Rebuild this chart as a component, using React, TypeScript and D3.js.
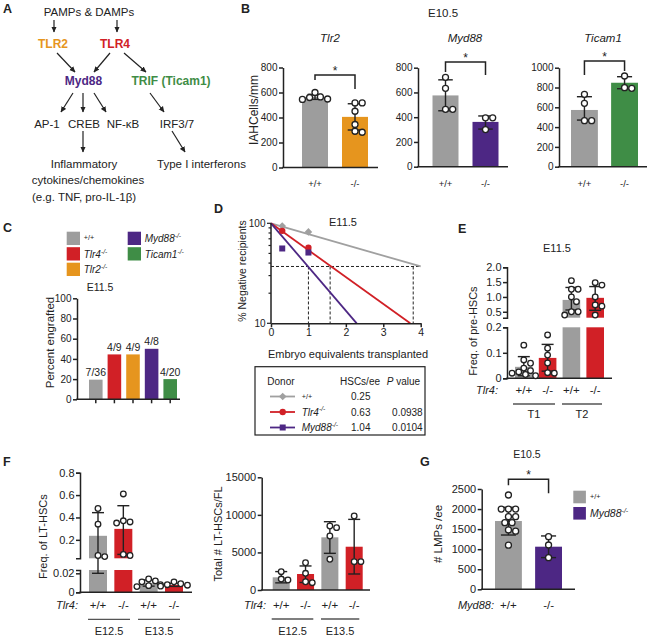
import React, { useEffect, useRef } from "react";
import * as d3 from "d3";

const FONT = "'Liberation Sans', Arial, Helvetica, sans-serif";
const GRAY = "#9d9d9d";
const ORANGE = "#e6951e";
const RED = "#d12026";
const PURPLE = "#4d2784";
const GREEN = "#3f8d46";
const INK = "#222";

// B: IAH cells / mm at E10.5
const bGenotypes = ["+/+", "-/-"];
const bTicks800 = [0, 200, 400, 600, 800];
const bTicks1000 = [0, 200, 400, 600, 800, 1000];
const tlr2Means = [565, 405];
const tlr2Lo = [545, 300];
const tlr2Hi = [585, 510];
const tlr2Pts = [[600, 548, 560, 565, 545], [517, 517, 450, 344, 282, 290]];
const myd88Means = [576, 362];
const myd88Lo = [452, 304];
const myd88Hi = [702, 410];
const myd88Pts = [[722, 633, 464, 464], [395, 395, 300]];
const ticam1Means = [573, 848];
const ticam1Lo = [471, 788];
const ticam1Hi = [707, 909];
const ticam1Pts = [[731, 640, 465, 465], [916, 798, 792]];

// C: percent engrafted at E11.5
const cGroups = ["+/+", "Tlr4", "Tlr2", "Myd88", "Ticam1"];
const cColors = [GRAY, RED, ORANGE, PURPLE, GREEN];
const cEngrafted = [7, 4, 4, 4, 4];
const cTotal = [36, 9, 9, 8, 20];
const cTicks = [0, 20, 40, 60, 80, 100];

// D: limiting dilution
const dDonors = ["+/+", "Tlr4", "Myd88"];
const dColors = ["#a0a0a0", RED, PURPLE];
const dDoses = [0.3, 1];
const dNegPct = [[94, 82], [84, 57], [56, 51]];
const dFitEnd = [[4, 37], [3.72, 10], [2.29, 10]];
const dCross = [3.8, 1.58, 1.0];
const dLevel = 37;
const dHscs = ["0.25", "0.63", "1.04"];
const dPvals = ["", "0.0938", "0.0104"];
const dTicksX = [0, 1, 2, 3, 4];
const dTicksY = [10, 20, 30, 40, 50, 60, 70, 80, 90, 100];

// E: pre-HSC frequency at E11.5
const eCats = ["+/+", "-/-", "+/+", "-/-"];
const eColors = [GRAY, RED, GRAY, RED];
const eTicksLow = [0, 0.1, 0.2];
const eTicksHigh = [0.5, 1.0, 1.5, 2.0];
const eMeans = [0.045, 0.08, 0.9, 0.97];
const eLo = [0.01, 0.028, 0.56, 0.55];
const eHi = [0.085, 0.133, 1.32, 1.35];
const ePts = [
  [0.13, 0.072, 0.059, 0.04, 0.03, 0.025, 0.02, 0.015, 0.01],
  [0.17, 0.118, 0.091, 0.06, 0.022, 0.02],
  [1.55, 1.26, 1.26, 1.0, 0.84, 0.5, 0.39, 0.5],
  [1.48, 1.4, 1.0, 0.73, 0.69, 0.39],
];

// F: LT-HSC frequency and totals in fetal liver
const fCats = ["+/+", "-/-", "+/+", "-/-"];
const fColors = [GRAY, RED, GRAY, RED];
const fStages = ["E12.5", "E13.5"];
const fTicksLow = [0, 0.02];
const fTicksHigh = [0.2, 0.4, 0.6, 0.8];
const fFreqMeans = [0.236, 0.298, 0.0095, 0.0077];
const fFreqLo = [0.02, 0.07, 0.0065, 0.0062];
const fFreqHi = [0.443, 0.505, 0.013, 0.0095];
const fFreqPts = [
  [0.48, 0.34, 0.06, 0.05],
  [0.61, 0.37, 0.36, 0.35, 0.07, 0.06],
  [0.014, 0.012, 0.011, 0.008, 0.007, 0.006],
  [0.011, 0.009, 0.008, 0.0075, 0.0065],
];
const fTotTicks = [0, 5000, 10000, 15000];
const fTotMeans = [1690, 2130, 7010, 5760];
const fTotLo = [950, 1000, 4880, 2130];
const fTotHi = [2450, 3200, 9090, 9400];
const fTotPts = [
  [2440, 1460, 1330],
  [3630, 2220, 1100, 970],
  [8520, 8300, 7190, 4090],
  [9850, 3770, 3770],
];

// G: LMPs per ee at E10.5
const gTicks = [0, 500, 1000, 1500, 2000, 2500];
const gMeans = [1702, 1062];
const gLo = [1353, 790];
const gHi = [2044, 1330];
const gPts = [
  [2350, 2000, 2000, 2000, 1810, 1810, 1660, 1660, 1480, 1450, 1100],
  [1311, 1104, 788],
];

function swarm(ys: number[], r: number): number[] {
  const order = ys.map((_, i) => i).sort((a, b) => ys[a] - ys[b]);
  const placed: { x: number; y: number }[] = [];
  const out = new Array(ys.length).fill(0);
  const step = r * 0.6;
  order.forEach((i) => {
    const y = ys[i];
    for (let k = 0; k < 40; k++) {
      const c = k === 0 ? 0 : (k % 2 ? 1 : -1) * Math.ceil(k / 2) * step;
      if (placed.every((p) => (p.x - c) ** 2 + (p.y - y) ** 2 >= (2 * r + 0.6) ** 2)) {
        out[i] = c;
        placed.push({ x: c, y });
        break;
      }
    }
  });
  return out;
}

function YAxis({ scale, x, ticks, fmt, outer, size }: any) {
  const ref = useRef<SVGGElement>(null);
  useEffect(() => {
    if (!ref.current) return;
    const g = d3.select(ref.current);
    g.call(d3.axisLeft(scale).tickValues(ticks).tickFormat(fmt).tickSize(4).tickSizeOuter(outer).tickPadding(1.5) as any);
    g.attr("font-family", FONT).attr("font-size", size);
    g.select(".domain").attr("stroke-width", 1.5).attr("stroke", INK);
    g.selectAll(".tick line").attr("stroke-width", 1.5).attr("stroke", INK);
    g.selectAll(".tick text").attr("fill", INK);
  }, [scale, ticks, fmt, outer, size]);
  return <g ref={ref} transform={`translate(${x},0)`} />;
}

function XAxis({ scale, y, ticks, size }: any) {
  const ref = useRef<SVGGElement>(null);
  useEffect(() => {
    if (!ref.current) return;
    const g = d3.select(ref.current);
    g.call(d3.axisBottom(scale).tickValues(ticks).tickFormat(d3.format("d")).tickSize(4).tickSizeOuter(0).tickPadding(1.5) as any);
    g.attr("font-family", FONT).attr("font-size", size);
    g.select(".domain").attr("stroke-width", 1.5).attr("stroke", INK);
    g.selectAll(".tick line").attr("stroke-width", 1.5).attr("stroke", INK);
    g.selectAll(".tick text").attr("fill", INK);
  }, [scale, ticks, size]);
  return <g ref={ref} transform={`translate(0,${y})`} />;
}

function Geno({ name, x, y, size, anchor = "start", italic = true }: any) {
  return (
    <text x={x} y={y} fontSize={size} fontStyle={italic ? "italic" : "normal"} textAnchor={anchor} fill={INK}>
      {name}
      <tspan fontSize={size * 0.68} dy={-size * 0.42}>-/-</tspan>
    </text>
  );
}

function WT({ x, y, size }: any) {
  return (
    <text x={x} y={y - size * 0.2} fontSize={size * 0.72} fill={INK}>
      +/+
    </text>
  );
}

function BarPlot({ axisX, axisEnd, segs, fmt, tickFont, band, pad, cats, catY, catSize, means, lo, hi, pts, colors, r, bracket, title }: any) {
  const scales = segs.map((s: any) => d3.scaleLinear().domain(s.domain).range(s.range));
  const y = (v: number) => {
    for (let i = 0; i < segs.length; i++) {
      const [a, b] = segs[i].domain;
      if (v >= a && v <= b) return scales[i](v);
    }
    for (let i = 0; i < segs.length - 1; i++) {
      const top = segs[i].domain[1];
      const nxt = segs[i + 1].domain[0];
      if (v > top && v < nxt) {
        const t = (v - top) / (nxt - top);
        return segs[i].range[1] + t * (segs[i + 1].range[0] - segs[i].range[1]);
      }
    }
    return v < segs[0].domain[0] ? scales[0](v) : scales[segs.length - 1](v);
  };
  const x = d3.scaleBand<number>().domain(means.map((_: any, i: number) => i)).range(band).paddingInner(pad);
  const bw = x.bandwidth();
  const cap = Math.max(6, bw * 0.28);
  const cx = (i: number) => (x(i) as number) + bw / 2;
  const broken = segs.length > 1;
  return (
    <g>
      {means.map((m: number, i: number) =>
        segs.map((s: any, si: number) => {
          const top = Math.min(m, s.domain[1]);
          const bot = Math.max(s.domain[0], 0);
          if (top <= bot) return null;
          const yt = scales[si](top);
          const yb = scales[si](bot);
          return <rect key={`b${i}-${si}`} x={x(i)} y={yt} width={bw} height={yb - yt} fill={colors[i]} />;
        })
      )}
      {segs.map((s: any, si: number) => (
        <YAxis key={si} scale={scales[si]} x={axisX} ticks={s.ticks} fmt={fmt} outer={broken ? 4 : 0} size={tickFont} />
      ))}
      <line x1={axisX - 0.75} x2={axisEnd} y1={y(0)} y2={y(0)} stroke={INK} strokeWidth={1.5} />
      {means.map((_: number, i: number) => (
        <g key={`e${i}`} stroke={INK} strokeWidth={1.4}>
          <line x1={cx(i)} x2={cx(i)} y1={y(lo[i])} y2={y(hi[i])} />
          <line x1={cx(i) - cap} x2={cx(i) + cap} y1={y(hi[i])} y2={y(hi[i])} />
          <line x1={cx(i) - cap} x2={cx(i) + cap} y1={y(lo[i])} y2={y(lo[i])} />
        </g>
      ))}
      {pts.map((arr: number[], i: number) => {
        const ys = arr.map(y);
        const off = swarm(ys, r);
        return ys.map((yy, j) => (
          <circle key={`p${i}-${j}`} cx={cx(i) + off[j]} cy={yy} r={r} fill="#fff" stroke={INK} strokeWidth={1.3} />
        ));
      })}
      {cats &&
        cats.map((c: string, i: number) => (
          <text key={`c${i}`} x={cx(i)} y={catY} fontSize={catSize} textAnchor="middle" fill={INK}>
            {c}
          </text>
        ))}
      {bracket && (
        <g>
          <path
            d={`M${cx(0)},${bracket.y + bracket.dl}V${bracket.y}H${cx(1)}V${bracket.y + bracket.dr}`}
            fill="none"
            stroke={INK}
            strokeWidth={1.5}
          />
          <text x={(cx(0) + cx(1)) / 2} y={bracket.y - 0.5} fontSize={12} textAnchor="middle" fill={INK}>
            *
          </text>
        </g>
      )}
      {title && (
        <text x={title.x} y={title.y} fontSize={title.size} fontStyle={title.italic ? "italic" : "normal"} textAnchor="middle" fill={INK}>
          {title.text}
        </text>
      )}
    </g>
  );
}

function PanelLetter({ t, x, y }: any) {
  return (
    <text x={x} y={y} fontSize={12.5} fontWeight="bold" fill={INK}>
      {t}
    </text>
  );
}

function YLabel({ text, x, y, size }: any) {
  return (
    <text transform={`translate(${x},${y}) rotate(-90)`} fontSize={size} textAnchor="middle" fill={INK}>
      {text}
    </text>
  );
}

function PanelA() {
  const arrows = [
    [54, 20, 54, 32],
    [117, 20, 117, 32],
    [57, 53, 75, 72],
    [110, 53, 94, 72],
    [124, 53, 146, 72],
    [73, 93, 61, 112],
    [83, 93, 83, 112],
    [94, 93, 106, 112],
    [150, 93, 164, 112],
    [83, 131, 83, 152],
    [172, 131, 185, 152],
  ];
  const fs = 11.5;
  return (
    <g fill={INK}>
      <PanelLetter t="A" x={3} y={12.7} />
      {arrows.map((a, i) => (
        <line key={i} x1={a[0]} y1={a[1]} x2={a[2]} y2={a[3]} stroke={INK} strokeWidth={1.2} markerEnd="url(#ah)" />
      ))}
      <text x={89} y={16} fontSize={fs} textAnchor="middle">PAMPs &amp; DAMPs</text>
      <text x={53} y={47.5} fontSize={12} fontWeight="bold" textAnchor="middle" fill={ORANGE}>TLR2</text>
      <text x={115} y={47.5} fontSize={12} fontWeight="bold" textAnchor="middle" fill={RED}>TLR4</text>
      <text x={83.5} y={85} fontSize={12} fontWeight="bold" textAnchor="middle" fill={PURPLE}>Myd88</text>
      <text x={171} y={85} fontSize={12} fontWeight="bold" textAnchor="middle" fill={GREEN}>TRIF (Ticam1)</text>
      <text x={47} y={127.5} fontSize={fs} textAnchor="middle">AP-1</text>
      <text x={84} y={127.5} fontSize={fs} textAnchor="middle">CREB</text>
      <text x={123} y={127.5} fontSize={fs} textAnchor="middle">NF-κB</text>
      <text x={177} y={127.5} fontSize={fs} textAnchor="middle">IRF3/7</text>
      <text x={84} y={167.5} fontSize={fs} textAnchor="middle">Inflammatory</text>
      <text x={88} y={184} fontSize={fs} textAnchor="middle">cytokines/chemokines</text>
      <text x={84} y={200.8} fontSize={fs} textAnchor="middle">(e.g. TNF, pro-IL-1β)</text>
      <text x={201.5} y={167.5} fontSize={fs} textAnchor="middle">Type I interferons</text>
    </g>
  );
}

function PanelB() {
  const fmt = d3.format("d");
  return (
    <g>
      <PanelLetter t="B" x={241} y={12.7} />
      <text x={428} y={17} fontSize={11.5} fill={INK}>E10.5</text>
      <YLabel text="IAHCells/mm" x={258} y={110} size={12} />
      <BarPlot
        axisX={283} axisEnd={378}
        segs={[{ domain: [0, 800], range: [167.5, 67.5], ticks: bTicks800 }]}
        fmt={fmt} tickFont={10} band={[302, 368]} pad={0.35}
        cats={bGenotypes} catY={186.5} catSize={9.5}
        means={tlr2Means} lo={tlr2Lo} hi={tlr2Hi} pts={tlr2Pts} colors={[GRAY, ORANGE]} r={3}
        bracket={{ y: 75, dl: 5, dr: 14 }}
        title={{ text: "Tlr2", x: 330, y: 42, italic: true, size: 11.5 }}
      />
      <BarPlot
        axisX={418} axisEnd={508}
        segs={[{ domain: [0, 800], range: [166.7, 67.7], ticks: bTicks800 }]}
        fmt={fmt} tickFont={10} band={[432.5, 498.5]} pad={0.35}
        cats={bGenotypes} catY={186.5} catSize={9.5}
        means={myd88Means} lo={myd88Lo} hi={myd88Hi} pts={myd88Pts} colors={[GRAY, PURPLE]} r={3}
        bracket={{ y: 62, dl: 10, dr: 13 }}
        title={{ text: "Myd88", x: 465, y: 42, italic: true, size: 11.5 }}
      />
      <BarPlot
        axisX={559} axisEnd={647}
        segs={[{ domain: [0, 1000], range: [166.7, 67.7], ticks: bTicks1000 }]}
        fmt={fmt} tickFont={10} band={[571, 638]} pad={0.33}
        cats={bGenotypes} catY={186.5} catSize={9.5}
        means={ticam1Means} lo={ticam1Lo} hi={ticam1Hi} pts={ticam1Pts} colors={[GRAY, GREEN]} r={3}
        bracket={{ y: 61, dl: 14, dr: 10 }}
        title={{ text: "Ticam1", x: 603, y: 42, italic: true, size: 11.5 }}
      />
    </g>
  );
}

function PanelC() {
  const x = d3.scaleBand<string>().domain(cGroups).range([89, 177]).paddingInner(0.27);
  const y = d3.scaleLinear().domain([0, 100]).range([399.3, 298.3]);
  const bw = x.bandwidth();
  return (
    <g>
      <PanelLetter t="C" x={3} y={231.5} />
      {cGroups.map((g, i) => {
        const col = i < 3 ? 0 : 1;
        const row = i < 3 ? i : i - 3;
        const sx = 66.7 + col * 61;
        const sy = 231.7 + row * 15.5;
        return (
          <g key={g}>
            <rect x={sx} y={sy} width={13.3} height={13.3} fill={cColors[i]} />
            {i === 0 ? <WT x={sx + 17} y={sy + 10.5} size={10} /> : <Geno name={g} x={sx + 17} y={sy + 10.5} size={10} />}
          </g>
        );
      })}
      <text x={100} y={291} fontSize={10.5} textAnchor="middle" fill={INK}>E11.5</text>
      <YLabel text="Percent engrafted" x={54} y={342.5} size={11.5} />
      {cGroups.map((g, i) => {
        const v = (cEngrafted[i] / cTotal[i]) * 100;
        return (
          <g key={`bar${g}`}>
            <rect x={x(g)} y={y(v)} width={bw} height={y(0) - y(v)} fill={cColors[i]} />
            <text x={(x(g) as number) + bw / 2} y={y(v) - 3.5} fontSize={10.5} textAnchor="middle" fill={INK}>
              {`${cEngrafted[i]}/${cTotal[i]}`}
            </text>
            <line x1={(x(g) as number) + bw / 2} x2={(x(g) as number) + bw / 2} y1={y(0)} y2={y(0) + 4} stroke={INK} strokeWidth={1.5} />
          </g>
        );
      })}
      <YAxis scale={y} x={77} ticks={cTicks} fmt={d3.format("d")} outer={0} size={10} />
      <line x1={76.25} x2={180} y1={y(0)} y2={y(0)} stroke={INK} strokeWidth={1.5} />
    </g>
  );
}

function Marker({ i, x, y }: any) {
  const c = dColors[i];
  if (i === 0) return <path d={`M${x},${y - 3.8}L${x + 3.8},${y}L${x},${y + 3.8}L${x - 3.8},${y}Z`} fill={c} />;
  if (i === 1) return <circle cx={x} cy={y} r={3.2} fill={c} />;
  return <rect x={x - 3} y={y - 3} width={6} height={6} fill={c} />;
}

function PanelD() {
  const x = d3.scaleLinear().domain([0, 4]).range([271, 420.7]);
  const y = d3.scaleLog().domain([10, 100]).range([323.3, 223.3]);
  const line = d3.line();
  const rowY = [400, 415.5, 431];
  return (
    <g>
      <PanelLetter t="D" x={214} y={212.5} />
      <text x={343} y={226} fontSize={11} textAnchor="middle" fill={INK}>E11.5</text>
      <YLabel text="% Negative recipients" x={245.5} y={271} size={10.5} />
      <text x={348} y={357.5} fontSize={11} textAnchor="middle" fill={INK}>Embryo equivalents transplanted</text>
      <g stroke={INK} strokeWidth={1} strokeDasharray="3,2" fill="none">
        <line x1={x(0)} x2={x(4)} y1={y(dLevel)} y2={y(dLevel)} />
        {dCross.map((c, i) => (
          <line key={i} x1={x(c)} x2={x(c)} y1={y(dLevel)} y2={y(10)} />
        ))}
      </g>
      {dDonors.map((d, i) => (
        <path
          key={d}
          d={line([[x(0), y(100)], [x(dFitEnd[i][0]), y(dFitEnd[i][1])]]) as string}
          stroke={dColors[i]}
          strokeWidth={1.8}
          fill="none"
        />
      ))}
      {dDonors.map((d, i) =>
        dDoses.map((dose, j) => <Marker key={`${d}${j}`} i={i} x={x(dose)} y={y(dNegPct[i][j])} />)
      )}
      {/* y axis */}
      <line x1={x(0)} x2={x(0)} y1={y(10)} y2={y(100)} stroke={INK} strokeWidth={1.5} />
      {dTicksY.map((t) => {
        const major = t === 10 || t === 100;
        return (
          <g key={t}>
            <line x1={x(0) - (major ? 4 : 2.5)} x2={x(0)} y1={y(t)} y2={y(t)} stroke={INK} strokeWidth={1.2} />
            {major && (
              <text x={x(0) - 5.5} y={y(t) + 3.5} fontSize={10} textAnchor="end" fill={INK}>{t}</text>
            )}
          </g>
        );
      })}
      <XAxis scale={x} y={y(10)} ticks={dTicksX} size={10.5} />
      {/* legend */}
      <rect x={255} y={366.7} width={170} height={68.3} fill="none" stroke={INK} strokeWidth={1.2} />
      <text x={267.3} y={384.5} fontSize={10} fill={INK}>Donor</text>
      <text x={340} y={384.5} fontSize={10} fill={INK}>HSCs/ee</text>
      <text x={386.7} y={384.5} fontSize={10} fill={INK}>
        <tspan fontStyle="italic">P</tspan> value
      </text>
      {dDonors.map((d, i) => (
        <g key={`lg${d}`}>
          <line x1={270} x2={295} y1={rowY[i] - 3.5} y2={rowY[i] - 3.5} stroke={dColors[i]} strokeWidth={1.8} />
          <Marker i={i} x={282.7} y={rowY[i] - 3.5} />
          {i === 0 ? <WT x={301.7} y={rowY[i] + 1} size={10} /> : <Geno name={d} x={301.7} y={rowY[i]} size={10} />}
          <text x={370.5} y={rowY[i]} fontSize={10} textAnchor="end" fill={INK}>{dHscs[i]}</text>
          <text x={422.7} y={rowY[i]} fontSize={10} textAnchor="end" fill={INK}>{dPvals[i]}</text>
        </g>
      ))}
    </g>
  );
}

function PanelE() {
  const segs = [
    { domain: [0, 0.2], range: [378.3, 327.3], ticks: eTicksLow },
    { domain: [0.3, 2.0], range: [317.7, 267.3], ticks: eTicksHigh },
  ];
  const fmt = (v: number) => (v === 0 ? "0" : v.toFixed(1));
  return (
    <g>
      <PanelLetter t="E" x={458} y={232.5} />
      <text x={557} y={252} fontSize={11} textAnchor="middle" fill={INK}>E11.5</text>
      <YLabel text="Freq. of pre-HSCs" x={477} y={331} size={11} />
      <BarPlot
        axisX={507} axisEnd={612} segs={segs} fmt={fmt} tickFont={11}
        band={[515, 604]} pad={0.26} cats={eCats} catY={394} catSize={11.5}
        means={eMeans} lo={eLo} hi={eHi} pts={ePts} colors={eColors} r={2.8}
      />
      <text x={498} y={394} fontSize={11} fontStyle="italic" textAnchor="end" fill={INK}>Tlr4:</text>
      <g stroke="#555" strokeWidth={1.3}>
        <line x1={513} x2={555} y1={404} y2={404} />
        <line x1={562} x2={602} y1={404} y2={404} />
      </g>
      <text x={534} y={417.5} fontSize={11} textAnchor="middle" fill={INK}>T1</text>
      <text x={582} y={417.5} fontSize={11} textAnchor="middle" fill={INK}>T2</text>
    </g>
  );
}

function PanelF() {
  const segs = [
    { domain: [0, 0.0235], range: [592.3, 570], ticks: fTicksLow },
    { domain: [0.035, 0.8], range: [558.3, 472.7], ticks: fTicksHigh },
  ];
  const fmt = (v: number) => (v === 0 ? "0" : v < 0.1 ? v.toFixed(2) : v.toFixed(1));
  return (
    <g>
      <PanelLetter t="F" x={3} y={466} />
      <YLabel text="Freq. of LT-HSCs" x={47} y={536.7} size={11} />
      <BarPlot
        axisX={80} axisEnd={192} segs={segs} fmt={fmt} tickFont={11}
        band={[89, 183]} pad={0.29} cats={fCats} catY={608.5} catSize={11.5}
        means={fFreqMeans} lo={fFreqLo} hi={fFreqHi} pts={fFreqPts} colors={fColors} r={2.8}
      />
      <text x={78} y={608.5} fontSize={11} fontStyle="italic" textAnchor="end" fill={INK}>Tlr4:</text>
      <g stroke="#555" strokeWidth={1.3}>
        <line x1={88} x2={130} y1={619.3} y2={619.3} />
        <line x1={138} x2={180} y1={619.3} y2={619.3} />
      </g>
      <text x={109} y={635} fontSize={11} textAnchor="middle" fill={INK}>{fStages[0]}</text>
      <text x={159} y={635} fontSize={11} textAnchor="middle" fill={INK}>{fStages[1]}</text>

      <YLabel text="Total # LT-HSCs/FL" x={222} y={534} size={11} />
      <BarPlot
        axisX={261.7} axisEnd={370}
        segs={[{ domain: [0, 15000], range: [590, 477.3], ticks: fTotTicks }]}
        fmt={d3.format("d")} tickFont={11}
        band={[272.7, 362.7]} pad={0.3} cats={fCats} catY={608.5} catSize={11.5}
        means={fTotMeans} lo={fTotLo} hi={fTotHi} pts={fTotPts} colors={fColors} r={2.8}
      />
      <text x={266} y={608.5} fontSize={11} fontStyle="italic" textAnchor="end" fill={INK}>Tlr4:</text>
      <g stroke="#555" strokeWidth={1.3}>
        <line x1={271.7} x2={313.3} y1={619} y2={619} />
        <line x1={321} x2={359.3} y1={619} y2={619} />
      </g>
      <text x={292.5} y={635} fontSize={11} textAnchor="middle" fill={INK}>{fStages[0]}</text>
      <text x={340} y={635} fontSize={11} textAnchor="middle" fill={INK}>{fStages[1]}</text>
    </g>
  );
}

function PanelG() {
  return (
    <g>
      <PanelLetter t="G" x={420} y={466} />
      <text x={527} y={458} fontSize={10.5} textAnchor="middle" fill={INK}>E10.5</text>
      <YLabel text="# LMPs /ee" x={442} y={534} size={11.5} />
      <BarPlot
        axisX={481.7} axisEnd={575}
        segs={[{ domain: [0, 2500], range: [589.3, 489], ticks: gTicks }]}
        fmt={d3.format("d")} tickFont={11}
        band={[495, 562]} pad={0.33} cats={bGenotypes} catY={608.5} catSize={11.5}
        means={gMeans} lo={gLo} hi={gHi} pts={gPts} colors={[GRAY, PURPLE]} r={3}
        bracket={{ y: 479.3, dl: 6, dr: 14 }}
      />
      <text x={494} y={608.5} fontSize={11} fontStyle="italic" textAnchor="end" fill={INK}>Myd88:</text>
      <rect x={573.3} y={490.7} width={12.6} height={12.6} fill={GRAY} />
      <WT x={590} y={501} size={10} />
      <rect x={573.3} y={507} width={12.6} height={12.6} fill={PURPLE} />
      <Geno name="Myd88" x={590} y={517} size={10.5} />
    </g>
  );
}

export default function App() {
  return (
    <svg
      width={654}
      height={637}
      style={{ position: "absolute", left: 0, top: 0, background: "#fff" }}
      fontFamily={FONT}
    >
      <defs>
        <marker id="ah" viewBox="0 0 10 10" refX={9} refY={5} markerWidth={6} markerHeight={6} markerUnits="userSpaceOnUse" orient="auto">
          <path d="M0,0.5L10,5L0,9.5Z" fill={INK} />
        </marker>
      </defs>
      <rect width={654} height={637} fill="#fff" />
      <PanelA />
      <PanelB />
      <PanelC />
      <PanelD />
      <PanelE />
      <PanelF />
      <PanelG />
    </svg>
  );
}
